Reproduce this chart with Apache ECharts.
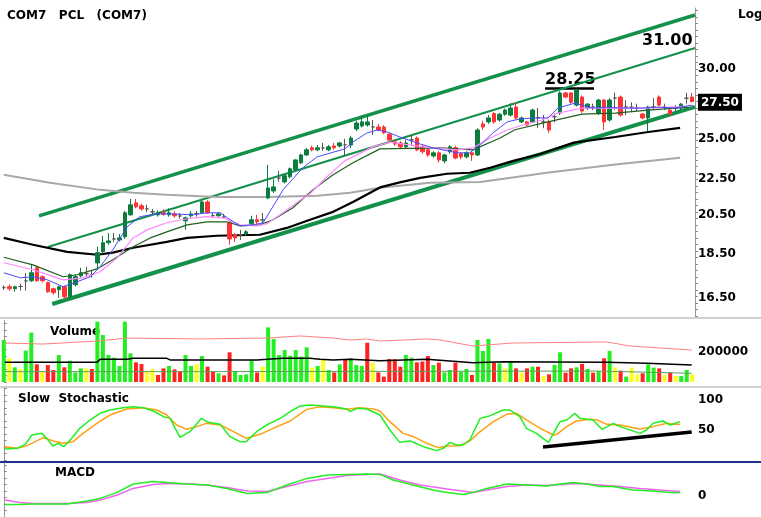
<!DOCTYPE html>
<html>
<head>
<meta charset="utf-8">
<script src="https://cdn.jsdelivr.net/npm/echarts@6/dist/echarts.min.js"></script>
<style>
  html, body { margin: 0; padding: 0; background: #fff; }
  #chart { width: 761px; height: 517px; }
</style>
</head>
<body>
<div id="chart"></div>
<script>
// ---- price panel: daily candles [open, close, low, high]
const ohlc = [
  [16.95,16.95,16.85,17.05],[16.99,16.90,16.81,17.08],[16.90,16.99,16.77,17.04],[17.00,17.00,16.82,17.12],
  [17.25,17.25,16.82,17.60],[17.26,17.62,17.20,17.99],[17.85,17.26,17.20,17.95],[17.44,17.26,17.18,17.50],
  [17.17,16.77,16.72,17.22],[16.90,16.73,16.64,16.95],[16.86,16.99,16.51,17.04],[16.99,16.55,16.46,17.04],
  [16.55,17.53,16.46,17.60],[17.08,17.44,17.00,17.55],[17.48,17.62,17.40,17.85],[17.58,17.58,17.44,17.90],
  [17.54,17.54,17.40,17.76],[18.08,18.57,17.76,18.86],[18.62,19.06,18.52,19.40],[19.06,19.15,18.96,19.55],
  [19.25,19.25,19.10,19.55],[19.20,19.30,19.12,19.50],[19.36,20.61,19.25,20.70],[20.50,21.04,20.45,21.37],
  [21.15,20.93,20.85,21.37],[20.99,20.82,20.72,21.10],[20.82,20.82,20.66,21.04],[20.66,20.66,20.50,20.82],
  [20.50,20.61,20.40,20.75],[20.61,20.53,20.45,20.80],[20.50,20.61,20.40,20.85],[20.55,20.45,20.35,20.70],
  [20.44,20.44,20.30,20.60],[20.18,20.34,19.71,20.40],[20.45,20.55,20.35,20.70],[20.56,20.56,20.40,20.70],
  [20.61,21.20,20.55,21.30],[21.20,20.61,20.55,21.30],[20.46,20.46,20.35,20.60],[20.45,20.55,20.40,20.65],
  [20.39,20.39,20.30,20.55],[20.08,19.25,18.96,20.15],[19.46,19.30,19.10,19.55],[19.45,19.45,19.20,19.71],
  [19.50,19.61,19.40,19.70],[20.03,20.24,19.95,20.45],[20.24,20.13,20.00,20.50],[20.23,20.23,20.05,20.60],
  [21.42,21.99,21.35,23.36],[21.82,22.05,21.70,22.50],[22.56,22.56,22.35,23.00],[22.34,22.70,22.25,22.80],
  [22.64,23.12,22.55,23.20],[23.06,23.66,22.95,23.70],[23.48,23.97,23.40,24.05],[23.97,24.29,23.90,24.40],
  [24.42,24.29,24.20,24.55],[24.29,24.42,24.20,24.60],[24.41,24.41,24.23,24.73],[24.29,24.48,24.20,24.60],
  [24.54,24.42,24.30,24.73],[24.54,24.73,24.45,24.80],[24.61,24.61,23.90,25.00],[24.60,25.05,24.40,25.20],
  [25.65,26.05,25.50,26.20],[25.85,26.13,25.75,26.50],[25.92,26.13,25.80,26.55],[25.79,25.79,25.25,26.26],
  [25.78,25.58,25.50,26.00],[25.78,25.40,25.30,25.90],[25.30,24.92,24.80,25.40],[24.80,24.66,24.55,24.90],
  [24.73,24.48,24.40,24.85],[24.48,24.73,24.40,24.95],[24.93,24.93,24.60,25.25],[25.05,24.29,24.20,25.15],
  [24.48,24.17,24.05,24.60],[24.29,23.97,23.85,24.40],[23.91,24.10,23.80,24.20],[24.10,23.66,23.50,24.20],
  [23.60,23.97,23.45,24.05],[24.17,24.48,24.05,24.60],[24.42,23.78,23.70,24.55],[24.05,23.85,23.70,24.15],
  [23.85,24.10,23.75,24.20],[24.10,23.97,23.60,24.20],[23.97,25.58,23.90,25.70],[25.99,25.78,25.60,26.20],
  [26.13,26.40,26.00,26.60],[26.70,26.13,26.00,26.80],[26.26,26.66,26.15,26.75],[26.66,26.95,26.55,27.05],
  [26.60,27.09,26.50,27.45],[27.16,26.40,26.30,27.50],[26.13,26.40,26.05,26.50],[26.13,25.92,25.85,26.20],
  [26.13,26.95,26.05,27.05],[26.42,26.42,25.72,27.09],[26.12,26.12,25.70,26.60],[26.13,25.58,25.40,26.30],
  [26.48,26.48,26.10,26.70],[26.74,28.18,26.60,28.30],[28.18,27.88,27.80,28.25],[28.18,27.51,27.40,28.25],
  [27.30,28.40,27.20,28.50],[27.88,26.88,26.75,28.00],[27.09,27.37,26.95,27.45],[27.17,27.17,26.95,27.40],
  [26.74,27.66,26.60,27.75],[27.66,26.13,25.58,27.75],[26.26,27.66,26.15,27.80],[27.81,27.81,26.95,28.20],
  [27.88,26.60,26.50,28.00],[27.17,27.17,26.60,27.66],[27.15,27.15,26.80,27.50],[27.10,27.10,26.85,27.40],
  [26.67,26.40,26.30,26.75],[26.40,27.16,25.50,27.25],[27.17,27.17,26.95,27.80],[27.88,27.30,27.20,28.00],
  [27.15,27.15,26.95,27.40],[26.95,26.67,26.55,27.05],[27.10,27.10,26.90,27.30],[27.09,27.37,26.95,27.45],
  [27.80,27.80,27.40,28.18],[27.88,27.55,27.50,28.18]
];
const cats = ohlc.map((_, i) => i);

// moving averages, [bar index, price]
const maBlue = [[0,17.62],[3,17.39],[5.3,17.44],[7.9,17.30],[10.8,16.99],[13.3,17.21],[15.7,17.44],[17.5,17.90],
  [19.8,18.71],[22.4,19.87],[24.7,20.40],[27.8,20.55],[30.7,20.55],[34.4,20.50],[36.9,20.61],[39.3,20.61],
  [41.1,20.24],[42.9,19.92],[45.3,19.97],[47.1,20.08],[50.7,21.88],[54.3,23.18],[56.9,23.85],[61.9,24.35],
  [63.4,24.79],[65.9,25.38],[67.8,25.58],[69.6,25.45],[71.9,25.12],[75,24.73],[77.9,24.42],[82.3,24.10],
  [84.6,24.10],[86.5,24.60],[88.8,25.38],[91.4,26.13],[93.7,26.33],[96.4,26.40],[98.8,26.40],[100.6,27.09],
  [103.7,27.44],[106.8,27.09],[109.7,27.16],[112.2,27.09],[115.9,27.09],[118.8,27.16],[121.9,27.09],[125,27.30]];
const maPink = [[0,18.09],[5.3,17.76],[10.8,17.30],[14.4,17.39],[17.5,17.67],[20.6,18.33],[23.5,19.30],[26,19.71],
  [29.6,20.08],[33.3,20.29],[36.9,20.40],[39.8,20.34],[42.9,19.97],[46,19.92],[47.8,20.03],[50.7,20.61],
  [53.8,21.30],[55.6,21.66],[58.7,22.64],[61.9,23.60],[67,24.48],[70.1,24.79],[76.1,24.48],[82.3,24.29],
  [85.2,24.42],[88.3,25.05],[91.4,25.58],[93.7,25.85],[97.7,26.26],[100.6,26.74],[105,27.09],[109.7,27.09],
  [117,27.09],[124.9,27.23]];
const maDkGreen = [[0,18.35],[5.3,17.99],[10.8,17.44],[13.3,17.53],[16.9,17.80],[19.8,18.23],[23.5,18.86],
  [26.6,19.30],[29.6,19.61],[33.3,19.97],[36.9,20.13],[40.5,20.13],[42.9,19.92],[46.5,19.97],[48.9,20.24],
  [52.5,20.88],[56.1,21.88],[59.8,22.76],[63.4,23.48],[68.3,24.35],[79.2,24.41],[85.2,24.29],[90.1,25.05],
  [92.8,25.60],[98.8,26.13],[105,26.67],[111,26.74],[117,26.95],[124.2,27.16]];
const maBlack = [[0,19.30],[5.3,18.96],[11.5,18.61],[17,18.47],[19.8,18.57],[23.5,18.81],[29.6,19.10],
  [33.3,19.30],[38.7,19.41],[46.5,19.46],[51.4,19.81],[55.6,20.24],[59.8,20.66],[63.4,21.20],[68.3,22.02],
  [71.9,22.31],[75.6,22.58],[80.5,22.82],[84.6,22.88],[88.3,23.18],[92.5,23.60],[97.4,24.03],[103.5,24.75],
  [111,25.12],[117,25.45],[122.8,25.72]];
const maGrey = [[0,22.76],[8.4,22.29],[17.5,21.88],[23.5,21.71],[29.6,21.60],[38.7,21.48],[47.8,21.48],
  [56.9,21.54],[62.9,21.71],[68.3,22.00],[77.4,22.29],[86.5,22.34],[98.6,22.88],[110.6,23.36],[122.8,23.79]];

// trend channel, [bar index, price] end points
const channelTop = [[6.4,20.44],[125.5,34.54]];
const channelMid = [[8.0,18.85],[125.5,31.69]];
const channelLow = [[8.8,16.24],[125.5,27.17]];

const priceTicks = [16.5, 18.5, 20.5, 22.5, 25, 27.5, 30];
const lastPrice = 27.5;
const PMIN = 15.74, PMAX = 35.18;

// ---- volume
const volumes = [280000,158000,98000,87000,209000,329000,118000,73000,113000,80000,
  180000,98000,142000,64000,91000,91000,87000,402000,313000,180000,
  162000,107000,402000,191000,131000,120000,73000,87000,47000,91000,
  107000,84000,73000,180000,107000,118000,173000,102000,69000,58000,
  44000,198000,73000,47000,51000,147000,64000,102000,364000,287000,
  180000,213000,176000,213000,169000,231000,96000,107000,147000,80000,
  64000,118000,147000,158000,113000,107000,262000,129000,64000,
  36000,153000,151000,102000,180000,162000,131000,136000,173000,113000,
  129000,64000,80000,129000,69000,87000,47000,280000,207000,287000,
  129000,124000,91000,131000,91000,64000,91000,102000,102000,40000,
  51000,113000,198000,62000,91000,98000,120000,87000,62000,73000,
  158000,207000,98000,76000,36000,96000,51000,58000,118000,96000,
  91000,47000,64000,40000,40000,80000,51000];
// g = up, r = down, y = unchanged
const volDir = ('gygyggryrrgrgggyrgggggggrryyrrgrrggygrrgrrggggryggggggggygygrgrgggryr' +
  'rrrrggrrrgrggrggrgggrgygryrgryrggrrgrgrgrgyrgyyrggryryggy').split('');
const volRed = [[0.2,260000],[7.1,253000],[16.9,273000],[22.4,293000],[35.6,287000],[47.8,293000],
  [53.8,307000],[59.8,293000],[62.9,280000],[65.9,287000],[68.3,273000],[76.8,287000],[79.2,280000],
  [85.2,240000],[92.5,260000],[109.5,267000],[113.7,240000],[124.9,213000]];
const volBlack = [[0.2,131000],[16.9,131000],[17.5,151000],[22.4,151000],[23.5,158000],[29.6,158000],
  [30.2,147000],[46,147000],[47.8,151000],[50.7,158000],[55.6,158000],[57.4,151000],[59.8,147000],
  [62.9,151000],[68.3,142000],[76.8,151000],[85.2,129000],[90.7,135000],[109.5,131000],[116.8,125000],
  [124.9,113000]];
const volGreen = [[0.2,69000],[35.6,69000],[68.3,71000],[107.9,73000],[124.9,58000]];

// ---- slow stochastic
const stochK = [[0.2,18.3],[2.4,19.4],[3.9,26],[5.1,41.7],[6.9,44.4],[7.8,36],[8.9,23.3],[9.9,27.8],
  [10.9,22.2],[12.3,36],[13.8,52.8],[15.7,66.7],[17.5,77.8],[19.3,83.3],[21.7,87.2],[23.5,88.9],
  [25.3,87.2],[27.2,81.7],[29,72.2],[30.2,69.4],[32,37.8],[33.8,47.2],[35.9,69.4],[37.1,62.8],
  [39.3,59.4],[41.1,38.9],[42.9,30.6],[44,30.6],[45.9,47.2],[47.7,58.3],[50.2,69.4],[52,80.6],
  [53.8,90],[55.6,91.7],[57.4,90.5],[59.8,88.9],[62.3,85],[62.9,80.6],[64.1,86.1],[65.9,85],
  [68.3,75],[70.1,50],[71.9,29.4],[73.8,31.7],[76.2,22.2],[78.6,15.6],[79.8,19.4],[81,29.4],
  [82.2,25],[83.4,25],[84.6,33.3],[86.5,69.4],[88.3,73.9],[90.7,83.3],[91.9,83.3],[93.7,72.2],
  [94.9,52.8],[96.7,44.4],[98.9,29.4],[101,63.9],[102.2,66.7],[103.7,77.8],[104.6,69.4],[107,66.7],
  [108.6,51.1],[110.7,61.1],[111.9,55.6],[115.5,44.4],[116.7,50],[117.9,61.1],[119.7,65],[121,58.3],
  [122.8,63.9]];
const stochD = [[0.2,22.2],[2.4,19.4],[4.2,23.9],[7.2,37.2],[9,31.7],[10.8,27.8],[12.6,30.6],[14.4,44.4],
  [16.9,61.1],[19.3,75],[22.3,85],[25.3,87.2],[27.8,83.3],[29.6,75],[31.4,58.3],[33.2,51.1],[35,55.6],
  [36.8,61.1],[39.3,58.3],[41.7,47.2],[44.1,36.1],[46.5,42.8],[48.9,52.8],[52,65],[55,84.4],[57.4,88.9],
  [59.8,87.2],[62.3,84.4],[64.7,87.2],[67.1,85],[68.3,81.7],[70.1,63.9],[72.5,44.4],[74.4,38.9],
  [76.8,27.8],[78.9,20.6],[80.4,23.3],[82.8,23.9],[84.6,31.7],[86.5,47.2],[88.9,63.9],[91.3,76.1],
  [93.1,77.8],[94.9,66.7],[97.4,52.8],[99.8,41.7],[100.4,42.8],[102.2,55.6],[104,65],[106.4,67.8],
  [107.7,66.7],[109.5,59.4],[111.9,58.3],[115.5,51.7],[117.9,55.6],[120.4,61.1],[121.6,59.4],[122.8,59.4]];
const stochTrend = [[97.9,21.7],[124.9,46.7]];

// ---- MACD
const macdLine = [[0.2,-0.42],[2.9,-0.42],[5.3,-0.40],[11.5,-0.40],[15.1,-0.25],[17.5,-0.12],[20.6,0.18],
  [23.5,0.60],[27.1,0.72],[29.6,0.68],[33.3,0.60],[36.9,0.55],[40.5,0.38],[44.2,0.13],[47.8,0.17],
  [51.4,0.55],[55.1,0.88],[58.7,1.05],[62.3,1.08],[65.9,1.10],[68.3,1.08],[70.7,0.80],[74.3,0.55],
  [77.9,0.30],[80.5,0.18],[83.4,0.08],[85.2,0.18],[87.7,0.38],[91.4,0.60],[95,0.55],[98.6,0.50],
  [101,0.60],[103.3,0.67],[105.9,0.60],[108.3,0.47],[110.6,0.47],[114.2,0.30],[117.9,0.25],[121,0.17],
  [122.8,0.17]];
const macdSignal = [[0.2,-0.20],[2.9,-0.32],[5.3,-0.37],[11.5,-0.38],[15.1,-0.32],[17.5,-0.20],[20.6,0.05],
  [23.5,0.38],[27.1,0.58],[29.6,0.63],[33.3,0.60],[36.9,0.55],[40.5,0.42],[44.2,0.25],[47.8,0.22],
  [51.4,0.47],[55.1,0.72],[58.7,0.88],[62.3,1.02],[65.9,1.08],[68.3,1.10],[71.9,0.80],[75.6,0.55],
  [80.5,0.35],[85.2,0.18],[87.7,0.30],[91.4,0.47],[95,0.55],[98.6,0.52],[102.3,0.60],[104.6,0.63],
  [108.3,0.55],[111.9,0.47],[115.5,0.38],[119.1,0.30],[122.8,0.22]];

// ------------------------------------------------------------------
const FONT = 'DejaVu Sans';
const dirColor = { g: '#22ee22', r: '#ff2222', y: '#ffff22' };

function denseTicks(min, max, px, step) {
  const out = [];
  const n = Math.floor(px / step);
  for (let k = 0; k <= n; k++) out.push(min + (max - min) * k * step / px);
  return out;
}

function rightAxis(grid, min, max, px, labels) {
  return {
    type: 'value', gridIndex: grid, position: 'right', min: min, max: max,
    splitLine: { show: false },
    axisLine: { show: true, lineStyle: { color: '#999', width: 1 } },
    axisTick: { show: true, length: 3, lineStyle: { color: '#888' },
      customValues: denseTicks(min, max, px, 6.5) },
    axisLabel: { customValues: labels, margin: 3, color: '#000',
      fontFamily: FONT, fontWeight: 'bold', fontSize: 12,
      formatter: v => String(Math.round(v)) }
  };
}

const lmin = Math.log10(PMIN), lmax = Math.log10(PMAX);
const priceLabelAxis = rightAxis(0, lmin, lmax, 308, priceTicks.map(Math.log10));
priceLabelAxis.axisLabel.formatter = v => {
  const s = Math.pow(10, v).toFixed(2);
  return s === lastPrice.toFixed(2) ? '{box|' + s + '}' : s;
};
priceLabelAxis.axisLabel.rich = {
  box: { backgroundColor: '#000', color: '#fff', padding: [3, 3, 2, 3],
    fontFamily: FONT, fontWeight: 'bold', fontSize: 12 }
};

const volAxis = rightAxis(1, 0, 410000, 61.5, [200000]);
const stochAxis = rightAxis(2, 0, 120, 72, [50, 100]);
const macdAxis = rightAxis(3, -1.05, 1.65, 54, [0]);

function line(data, xi, yi, color, width, z) {
  return { type: 'line', data: data, xAxisIndex: xi, yAxisIndex: yi, symbol: 'none',
    lineStyle: { color: color, width: width }, z: z || 2, silent: true };
}

const chGreen = '#13914b';
const option = {
  animation: false,
  backgroundColor: '#fff',
  grid: [
    { left: 1, right: 66, top: 8, height: 308, outerBoundsMode: 'none' },
    { left: 1, right: 66, top: 320.5, height: 61.5, outerBoundsMode: 'none' },
    { left: 1, right: 66, top: 388, height: 72, outerBoundsMode: 'none' },
    { left: 1, right: 66, top: 463, height: 54, outerBoundsMode: 'none' }
  ],
  xAxis: [
    { type: 'category', gridIndex: 0, data: cats, show: false },
    { type: 'value', gridIndex: 0, min: -0.5, max: 125.5, show: false },
    { type: 'category', gridIndex: 1, data: cats, show: false },
    { type: 'value', gridIndex: 1, min: -0.5, max: 125.5, show: false },
    { type: 'value', gridIndex: 2, min: -0.5, max: 125.5, show: false },
    { type: 'value', gridIndex: 3, min: -0.5, max: 125.5, show: false }
  ],
  yAxis: [
    { type: 'log', gridIndex: 0, logBase: 10, min: PMIN, max: PMAX, show: false },
    priceLabelAxis,
    volAxis,
    stochAxis,
    macdAxis
  ],
  series: [
    line(channelTop, 1, 0, chGreen, 3.5),
    line(channelMid, 1, 0, chGreen, 2.2),
    line(channelLow, 1, 0, chGreen, 4),
    line(maGrey, 1, 0, '#a8a8a8', 2),
    line(maBlack, 1, 0, '#000', 2.2),
    {
      type: 'candlestick', xAxisIndex: 0, yAxisIndex: 0, data: ohlc, barWidth: 4, z: 3,
      itemStyle: { color: '#0b7d3e', color0: '#ff3333', borderColor: '#0b7d3e',
        borderColor0: '#ff3333', borderColorDoji: '#555', borderWidth: 1 }
    },
    line(maDkGreen, 1, 0, '#1f5f1f', 1.2, 4),
    line(maPink, 1, 0, '#ff88ff', 1.2, 4),
    line(maBlue, 1, 0, '#4a4aff', 1, 4),

    {
      type: 'bar', xAxisIndex: 2, yAxisIndex: 2, barWidth: 4,
      data: volumes.map((v, i) => ({ value: v, itemStyle: { color: dirColor[volDir[i]] } }))
    },
    line(volRed, 3, 2, '#ff8080', 1, 3),
    line(volBlack, 3, 2, '#000', 1.5, 3),
    line(volGreen, 3, 2, '#5e9e5e', 1, 3),

    line(stochD, 4, 3, '#ffa010', 1.5),
    line(stochK, 4, 3, '#22ee22', 1.5, 3),
    line(stochTrend, 4, 3, '#000', 3.5, 4),

    line(macdSignal, 5, 4, '#ee66ee', 1.5),
    line(macdLine, 5, 4, '#22ee22', 1.5, 3)
  ],
  graphic: [
    { type: 'line', shape: { x1: 0, y1: 318, x2: 761, y2: 318 }, style: { stroke: '#d0d0d0', lineWidth: 2 }, z: 10 },
    { type: 'line', shape: { x1: 0, y1: 387, x2: 761, y2: 387 }, style: { stroke: '#d0d0d0', lineWidth: 2 }, z: 10 },
    { type: 'line', shape: { x1: 0, y1: 462, x2: 761, y2: 462 }, style: { stroke: '#22308a', lineWidth: 2 }, z: 10 },
    { type: 'text', x: 7, y: 16, style: { text: 'COM7   PCL   (COM7)', font: 'bold 12px "' + FONT + '"', fill: '#000', verticalAlign: 'middle' } },
    { type: 'text', x: 738, y: 15, style: { text: 'Log', font: 'bold 12px "' + FONT + '"', fill: '#000', verticalAlign: 'middle' } },
    { type: 'text', x: 642, y: 41, style: { text: '31.00', font: 'bold 16px "' + FONT + '"', fill: '#000', verticalAlign: 'middle' } },
    { type: 'text', x: 545, y: 80, style: { text: '28.25', font: 'bold 16px "' + FONT + '"', fill: '#000', verticalAlign: 'middle' } },
    { type: 'line', shape: { x1: 545, y1: 88.5, x2: 594, y2: 88.5 }, style: { stroke: '#000', lineWidth: 2.5 } },
    { type: 'text', x: 50, y: 332, style: { text: 'Volume', font: 'bold 12px "' + FONT + '"', fill: '#000', verticalAlign: 'middle' } },
    { type: 'text', x: 18, y: 399, style: { text: 'Slow  Stochastic', font: 'bold 12px "' + FONT + '"', fill: '#000', verticalAlign: 'middle' } },
    { type: 'text', x: 55, y: 473, style: { text: 'MACD', font: 'bold 12px "' + FONT + '"', fill: '#000', verticalAlign: 'middle' } }
  ]
};

const chart = echarts.init(document.getElementById('chart'));
chart.setOption(option);
window.addEventListener('resize', () => chart.resize());
</script>
</body>
</html>
